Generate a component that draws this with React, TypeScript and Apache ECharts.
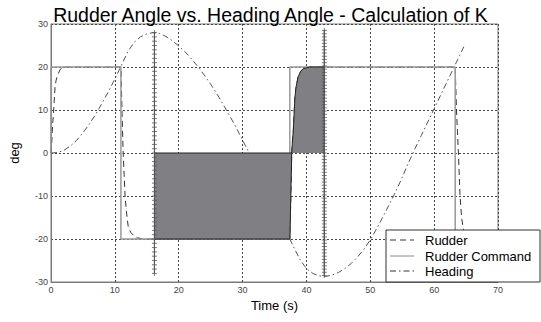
import React, { useEffect, useRef } from "react";
import * as echarts from "echarts";

const titleText = "Rudder Angle vs. Heading Angle - Calculation of K";
const xAxisTitle = "Time (s)";
const yAxisTitle = "deg";
const legendLabels = ["Rudder", "Rudder Command", "Heading"];

// Heading angle (deg)
const headingPoints: [number, number][] = [
  [0, 0], [1, 0.1], [2, 0.6], [3, 1.6], [4, 2.9], [5, 4.7], [6, 6.7], [7, 9.0],
  [8, 11.6], [9, 14.3], [10, 17.2], [11, 20.3], [12, 23.5], [13, 25.7], [14, 27.0],
  [15, 27.7], [16, 28.0], [17, 27.8], [18, 27.1], [19, 26.1], [20, 24.9], [21, 23.5],
  [22, 21.9], [23, 20.1], [24, 18.1], [25, 16.0], [26, 13.7], [27, 11.2], [28, 8.6],
  [29, 5.9], [30, 3.0], [31, 0.1], [32, -2.9], [33, -6.0], [34, -9.1], [35, -12.3],
  [36, -15.5], [37, -18.7], [38, -21.9], [39, -24.8], [40, -26.9], [41, -28.0],
  [42, -28.6], [43, -28.7], [44, -28.4], [45, -27.8], [46, -26.9], [47, -25.7],
  [48, -24.2], [49, -22.4], [50, -20.2], [51, -17.6], [52, -14.8], [53, -11.9],
  [54, -8.9], [55, -5.7], [56, -2.2], [57, 1.0], [58, 4.1], [59, 7.2], [60, 10.3],
  [61, 13.4], [62, 16.5], [63, 19.6], [64, 22.7], [64.8, 25.2],
];

// Actual rudder angle (deg)
const rudderPoints: [number, number][] = [
  [0, 0], [0.1, 2], [0.2, 5], [0.3, 7.5], [0.4, 9.5], [0.5, 12], [0.63, 15.3],
  [0.8, 16.9], [1.0, 18], [1.15, 18.5], [1.4, 19.3], [1.67, 19.8], [2.0, 20],
  [10.95, 20], [11.05, 14], [11.15, 8], [11.3, 0], [11.45, -5], [11.6, -10],
  [11.8, -13.5], [12.1, -17.2], [12.5, -18.5], [12.9, -19.1], [13.5, -19.7],
  [14.4, -20], [37.4, -20], [37.5, -14], [37.6, -7], [37.7, 0], [37.8, 2.5],
  [37.95, 5.3], [38.1, 10], [38.2, 13], [38.4, 15.5], [38.7, 17.7], [39.1, 19],
  [39.5, 19.6], [40.5, 20], [63.3, 20], [63.4, 15], [63.5, 10], [63.65, 5],
  [63.8, 0], [63.95, -6], [64.05, -10], [64.3, -15], [64.6, -18], [65, -19.5],
];

// Rudder command (deg)
const commandPoints: [number, number][] = [
  [0, 0], [0, 20], [10.95, 20], [10.95, -20], [37.4, -20], [37.4, 20],
  [63.3, 20], [63.3, -20], [65, -20],
];

// Times of heading extrema (marker lines)
const markerTimes = [16.2, 42.8];
const marker1Deg = [
  -28, -27, -26, -25, -24, -23, -22, -21, -20, -19, -18, -17, -16, -15, -14, -13, -12,
  -11, -10, -9, -8, -7, -6, -5, -4, -3, -2, -1, 0, 1, 2, 3, 4, 5, 6, 7, 8, 9, 10, 11,
  12, 13, 14, 15, 16, 17, 18, 19, 20, 21, 22, 23, 24, 25, 26, 27, 28,
];
const marker2Deg = [
  -28.5, -27.75, -27, -26.25, -25.5, -24.75, -24, -23.25, -22.5, -21.75, -21, -20.25,
  -19.5, -18.75, -18, -17.25, -16.5, -15.75, -15, -14.25, -13.5, -12.75, -12, -11.25,
  -10.5, -9.75, -9, -8.25, -7.5, -6.75, -6, -5.25, -4.5, -3.75, -3, -2.25, -1.5, -0.75,
  0, 0.75, 1.5, 2.25, 3, 3.75, 4.5, 5.25, 6, 6.75, 7.5, 8.25, 9, 9.75, 10.5, 11.25, 12,
  12.75, 13.5, 14.25, 15, 15.75, 16.5, 17.25, 18, 18.75, 19.5, 20.25, 21, 21.75, 22.5,
  23.25, 24, 24.75, 25.5, 26.25, 27, 27.75, 28.5,
];

const xMin = 0, xMax = 70, xStep = 10;
const yMin = -30, yMax = 30, yStep = 10;

const FONT = "'Liberation Sans', Arial, sans-serif";

export default function App() {
  const ref = useRef<HTMLDivElement>(null);
  useEffect(() => {
    if (!ref.current) return;
    const chart = echarts.init(ref.current, undefined, { renderer: "svg" });

    const [t1, t2] = markerTimes;
    const inside = rudderPoints.filter((p) => p[0] > t1 && p[0] < t2);
    const before = rudderPoints.filter((p) => p[0] <= t1);
    const startVal = before[before.length - 1][1];
    const endVal = inside[inside.length - 1][1];
    const fillData: [number, number][] = [[t1, startVal], ...inside, [t2, endVal]];
    const zeroCross = inside.find((p) => p[1] >= 0);
    const edgeData: [number, number][] = [[t1, 0], [zeroCross ? zeroCross[0] : t2, 0]];

    const plus = "path://M5,0 L5,10 M0,5 L10,5";
    const markerSeries = (t: number, ys: number[], z: number) => ({
      type: "line",
      data: ys.map((y) => [t, y]),
      symbol: plus,
      symbolSize: 5,
      showSymbol: true,
      itemStyle: { color: "rgba(0,0,0,0)", borderColor: "#555", borderWidth: 0.8 },
      lineStyle: { color: "#222", width: 0.8 },
      z,
      silent: true,
    });

    const legendX = 386, legendY = 230, legendW = 154, legendH = 52;
    const rowY = [240, 256, 271];
    const legendStyles = [
      { stroke: "#333", lineDash: [6, 4] },
      { stroke: "#888", lineDash: null },
      { stroke: "#333", lineDash: [6, 3, 1.5, 3] },
    ];
    const legendGraphics: any[] = [
      {
        type: "rect",
        shape: { x: legendX, y: legendY, width: legendW, height: legendH },
        style: { fill: "#fff", stroke: "#333", lineWidth: 1 },
        z: 100,
      },
    ];
    legendLabels.forEach((label, i) => {
      legendGraphics.push({
        type: "line",
        shape: { x1: legendX + 4, y1: rowY[i], x2: legendX + 28, y2: rowY[i] },
        style: { stroke: legendStyles[i].stroke, lineWidth: 1, lineDash: legendStyles[i].lineDash },
        z: 101,
      });
      legendGraphics.push({
        type: "text",
        x: legendX + 39,
        y: rowY[i],
        style: {
          text: label,
          fill: "#000",
          font: `13px ${FONT}`,
          textVerticalAlign: "middle",
          verticalAlign: "middle",
        },
        z: 101,
      });
    });

    chart.setOption({
      animation: false,
      backgroundColor: "#fff",
      title: {
        text: titleText,
        left: "center",
        top: 0,
        textStyle: { fontFamily: FONT, fontSize: 19.5, fontWeight: "normal", color: "#000" },
      },
      grid: {
        left: 51,
        right: 43,
        top: 24,
        bottom: 40,
        show: true,
        borderColor: "#7a7a7a",
        borderWidth: 1,
        backgroundColor: "#fff",
      },
      xAxis: {
        type: "value",
        min: xMin,
        max: xMax,
        interval: xStep,
        name: xAxisTitle,
        nameLocation: "middle",
        nameGap: 17,
        nameTextStyle: { fontFamily: FONT, fontSize: 13, color: "#000" },
        axisLine: { show: true, onZero: false, lineStyle: { color: "#7a7a7a", width: 1 } },
        axisTick: { show: false },
        axisLabel: { fontFamily: FONT, fontSize: 9, color: "#444", margin: 3 },
        splitLine: { show: true, lineStyle: { color: "#444", type: [2, 2], width: 1 } },
      },
      yAxis: {
        type: "value",
        min: yMin,
        max: yMax,
        interval: yStep,
        name: yAxisTitle,
        nameLocation: "middle",
        nameGap: 30,
        nameRotate: 90,
        nameTextStyle: { fontFamily: FONT, fontSize: 13, color: "#000" },
        axisLine: { show: true, onZero: false, lineStyle: { color: "#7a7a7a", width: 1 } },
        axisTick: { show: false },
        axisLabel: { fontFamily: FONT, fontSize: 9, color: "#444", margin: 3 },
        splitLine: { show: true, lineStyle: { color: "#444", type: [2, 2], width: 1 } },
      },
      series: [
        {
          name: "Heading",
          type: "line",
          data: headingPoints,
          showSymbol: false,
          lineStyle: { color: "#555", width: 1, type: [6, 3, 1.5, 3] },
          z: 2,
        },
        {
          name: "Rudder",
          type: "line",
          data: rudderPoints,
          showSymbol: false,
          lineStyle: { color: "#333", width: 1, type: [6, 4] },
          z: 3,
        },
        {
          name: "Rudder Command",
          type: "line",
          data: commandPoints,
          showSymbol: false,
          lineStyle: { color: "#999", width: 1.5 },
          z: 4,
        },
        {
          name: "Area",
          type: "line",
          data: fillData,
          showSymbol: false,
          lineStyle: { color: "#222", width: 1 },
          areaStyle: { color: "#807f83", opacity: 1, origin: 0 },
          z: 5,
        },
        {
          name: "AreaEdge",
          type: "line",
          data: edgeData,
          showSymbol: false,
          lineStyle: { color: "#222", width: 1 },
          z: 6,
        },
        markerSeries(t1, marker1Deg, 7),
        markerSeries(t2, marker2Deg, 7),
      ],
      graphic: legendGraphics,
    });
    return () => chart.dispose();
  }, []);
  return (
    <div
      ref={ref}
      style={{ position: "fixed", left: 0, top: 0, width: 541, height: 322, background: "#fff" }}
    />
  );
}
